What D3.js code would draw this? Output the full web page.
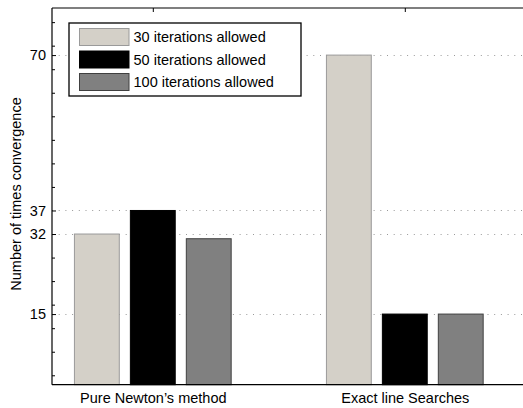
<!DOCTYPE html>
<html><head><meta charset="utf-8">
<script src="https://cdn.jsdelivr.net/npm/d3@7"></script>
<style>html,body{margin:0;padding:0;background:#fff;overflow:hidden}svg{display:block}text{font-family:"Liberation Sans",Arial,sans-serif}</style>
</head><body>
<svg id="c" width="523" height="408"></svg>
<script>
const categories = ["Pure Newton\u2019s method", "Exact line Searches"];
const seriesNames = ["30 iterations allowed", "50 iterations allowed", "100 iterations allowed"];
const iter30 = [32, 70];
const iter50 = [37, 15];
const iter100 = [31, 15];
const yTickValues = [15, 32, 37, 70];
const yMinorTicks = [2, 7, 12, 17, 22, 27, 42, 47, 52, 57, 62, 67, 72, 77];
const seriesFill = ["#d4d0c8", "#000000", "#808080"];
const seriesStroke = ["#9a9a9a", "#000000", "#404040"];

(function () {
const svg = d3.select("#c");
const x = d3.scaleLinear().domain([0.6, 2.5]).range([52, 530.8]);
const y = d3.scaleLinear().domain([0, 80]).range([384.7, 8]);
const groupPos = categories.map((c, i) => i + 1);
const offsets = [-0.222, 0, 0.222];
const barW = 0.178;
const series = [iter30, iter50, iter100];

// grid
svg.append("g").selectAll("line").data(yTickValues).join("line")
  .attr("x1", x(0.6)).attr("x2", 523)
  .attr("y1", d => Math.round(y(d)) + 0.5).attr("y2", d => Math.round(y(d)) + 0.5)
  .attr("stroke", "#999").attr("stroke-width", 1).attr("stroke-dasharray", "1,5.7");

// bars
series.forEach((vals, s) => {
  svg.append("g").selectAll("rect").data(vals).join("rect")
    .attr("x", (d, i) => x(groupPos[i] + offsets[s] - barW / 2))
    .attr("width", (d, i) => x(groupPos[i] + offsets[s] + barW / 2) - x(groupPos[i] + offsets[s] - barW / 2))
    .attr("y", d => y(d))
    .attr("height", d => y(0) - y(d))
    .attr("fill", seriesFill[s]).attr("stroke", seriesStroke[s]).attr("stroke-width", 1);
});

// frame
const left = x(0.6), topY = y(80), bottom = y(0);
svg.append("line").attr("x1", left).attr("x2", 523).attr("y1", topY).attr("y2", topY).attr("stroke", "#000").attr("stroke-width", 1.2);
svg.append("line").attr("x1", left).attr("x2", 523).attr("y1", bottom).attr("y2", bottom).attr("stroke", "#000").attr("stroke-width", 1.2);
svg.append("line").attr("x1", left).attr("x2", left).attr("y1", topY).attr("y2", bottom).attr("stroke", "#000").attr("stroke-width", 1.2);

// y axis via d3 axis (inner ticks)
const yAxis = d3.axisLeft(y).tickValues(yTickValues).tickSize(-4).tickPadding(10).tickFormat(d3.format("d"));
const gy = svg.append("g").attr("transform", `translate(${left},0)`).call(yAxis);
gy.select(".domain").remove();
gy.selectAll("text").attr("font-size", 14.5).attr("fill", "#000").attr("font-family", "Liberation Sans, Arial, sans-serif").attr("dx", 4);
gy.selectAll("line").attr("stroke", "#000");
const gyMinor = svg.append("g").attr("transform", `translate(${left},0)`).call(d3.axisLeft(y).tickValues(yMinorTicks).tickSize(-3).tickFormat(""));
gyMinor.select(".domain").remove();

// x axis labels
const gx = svg.append("g").attr("transform", `translate(0,${bottom})`)
  .call(d3.axisBottom(x).tickValues(groupPos).tickSize(0).tickPadding(8).tickFormat((d, i) => categories[i]));
gx.select(".domain").remove();
gx.selectAll("text").attr("font-size", 14.5).attr("fill", "#000").attr("font-family", "Liberation Sans, Arial, sans-serif");
// top ticks
svg.append("g").attr("transform", `translate(0,${topY})`)
  .call(d3.axisTop(x).tickValues(groupPos).tickSize(-4).tickFormat(""))
  .select(".domain").remove();

// y label
svg.append("text").attr("transform", "translate(21,194) rotate(-90)")
  .attr("text-anchor", "middle").attr("font-size", 14.5).text("Number of times convergence");

// legend
const lg = svg.append("g");
lg.append("rect").attr("x", 69).attr("y", 23).attr("width", 232).attr("height", 73)
  .attr("fill", "#fff").attr("stroke", "#000").attr("stroke-width", 1.3);
seriesNames.forEach((n, i) => {
  const yy = 28.5 + i * 22.5;
  lg.append("rect").attr("x", 79.5).attr("y", yy).attr("width", 49.5).attr("height", 17)
    .attr("fill", seriesFill[i]).attr("stroke", seriesStroke[i]).attr("stroke-width", 1);
  lg.append("text").attr("x", 133.5).attr("y", yy + 13.5).attr("font-size", 14.5).text(n);
});
})();
</script>
</body></html>
